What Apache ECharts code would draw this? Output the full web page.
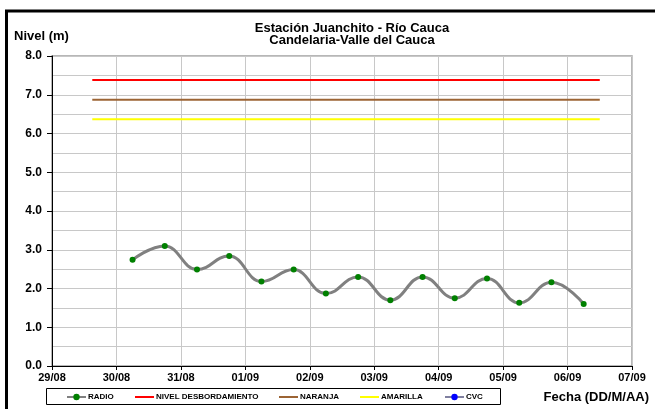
<!DOCTYPE html>
<html><head><meta charset="utf-8">
<script src="https://cdn.jsdelivr.net/npm/echarts@6/dist/echarts.min.js"></script>
<style>html,body{margin:0;padding:0;background:#fff}#c{width:655px;height:409px}</style>
</head><body><div id="c"></div>
<script>
const radioTimes = ['2010-08-30 06:00','2010-08-30 18:00','2010-08-31 06:00','2010-08-31 18:00','2010-09-01 06:00','2010-09-01 18:00','2010-09-02 06:00','2010-09-02 18:00','2010-09-03 06:00','2010-09-03 18:00','2010-09-04 06:00','2010-09-04 18:00','2010-09-05 06:00','2010-09-05 18:00','2010-09-06 06:00'];
const radioValues = [2.74,3.10,2.49,2.84,2.18,2.49,1.87,2.30,1.70,2.30,1.75,2.26,1.63,2.16,1.60];
const thresholdTimes = ['2010-08-29 15:00','2010-09-06 12:00'];
const desbordamiento = 7.38;
const naranja = 6.87;
const amarilla = 6.37;
const cvcValues = [];
const xMin = '2010-08-29 00:00', xMax = '2010-09-07 00:00';
const seriesNames = ['RADIO','NIVEL DESBORDAMIENTO','NARANJA','AMARILLA','CVC'];

function t(s){ const [d,h]=s.split(' '); const [Y,M,D]=d.split('-').map(Number); const [hh,mm]=h.split(':').map(Number); return new Date(Y,M-1,D,hh,mm).getTime(); }
const pad = n => (n<10?'0':'')+n;

const chart = echarts.init(document.getElementById('c'));
const F = 'Liberation Sans, Arial, sans-serif';
const legendLefts = [66,135,279,360,444];
const legendIsLine = [false,true,true,true,false];
chart.setOption({
  animation:false,
  backgroundColor:'#fff',
  title:{text:'Estación Juanchito - Río Cauca\nCandelaria-Valle del Cauca',left:347,textAlign:'center',top:17,
    textStyle:{fontFamily:F,fontSize:13,fontWeight:'bold',color:'#000',lineHeight:12}},
  graphic:[
    {type:'rect',shape:{x:6.5,y:11,width:700,height:450},style:{fill:'none',stroke:'#000',lineWidth:3},z:100},
    {type:'rect',shape:{x:46.5,y:388.5,width:454,height:16},style:{fill:'#fff',stroke:'#000',lineWidth:1},z:0},
    {type:'text',left:14,top:30,style:{text:'Nivel (m)',font:'bold 13px '+F,fill:'#000'}},
    {type:'text',right:6,top:391,style:{text:'Fecha (DD/M/AA)',font:'bold 13px '+F,fill:'#000'}}
  ],
  legend: seriesNames.map((n,i)=>({data:[legendIsLine[i]?{name:n,icon:'rect'}:{name:n}],left:legendLefts[i],top:393,
    itemWidth:19,itemHeight:legendIsLine[i]?2:8,itemGap:0,
    textStyle:{fontFamily:F,fontSize:8,fontWeight:'bold',color:'#000',padding:[0,0,0,-3]},padding:0,z:5})),
  grid:{left:52,right:23,top:56,bottom:43,show:true,borderColor:'#a0a0a0',borderWidth:1.5},
  xAxis:{type:'time',min:t(xMin),max:t(xMax),interval:86400000,
    axisLine:{lineStyle:{color:'#000',width:1}},
    axisTick:{show:true,length:4,lineStyle:{color:'#000'}},
    splitLine:{show:true,lineStyle:{color:'#c8c8c8',width:1}},
    minorTick:{show:false},
    axisLabel:{fontFamily:F,fontSize:11,fontWeight:'bold',color:'#000',margin:6,showMinLabel:true,showMaxLabel:true,hideOverlap:false,
      formatter:v=>{const d=new Date(v);return pad(d.getDate())+'/'+pad(d.getMonth()+1);}}},
  yAxis:{type:'value',min:0,max:8,interval:1,
    axisLine:{show:true,lineStyle:{color:'#000',width:1}},
    axisTick:{show:true,length:5,lineStyle:{color:'#000'}},
    splitLine:{show:true,lineStyle:{color:'#c8c8c8',width:1}},
    minorTick:{show:false,splitNumber:2},
    minorSplitLine:{show:true,lineStyle:{color:'#c8c8c8',width:1}},
    axisLabel:{fontFamily:F,fontSize:12,fontWeight:'bold',color:'#000',margin:10,formatter:v=>v.toFixed(1)}},
  series:[
    {name:'RADIO',type:'line',smooth:0.45,smoothMonotone:'x',data:radioTimes.map((s,i)=>[t(s),radioValues[i]]),
      lineStyle:{color:'#808080',width:3},itemStyle:{color:'#008000',borderWidth:0},symbol:'circle',symbolSize:6,showAllSymbol:true,z:5},
    {name:'NIVEL DESBORDAMIENTO',type:'line',data:thresholdTimes.map(s=>[t(s),desbordamiento]),symbol:'none',lineStyle:{color:'#ff0000',width:2},itemStyle:{color:'#ff0000'}},
    {name:'NARANJA',type:'line',data:thresholdTimes.map(s=>[t(s),naranja]),symbol:'none',lineStyle:{color:'#9c6434',width:2},itemStyle:{color:'#9c6434'}},
    {name:'AMARILLA',type:'line',data:thresholdTimes.map(s=>[t(s),amarilla]),symbol:'none',lineStyle:{color:'#ffff00',width:2},itemStyle:{color:'#ffff00'}},
    {name:'CVC',type:'line',data:cvcValues,symbol:'circle',symbolSize:5,lineStyle:{color:'#8080a0',width:2},itemStyle:{color:'#0000ff'}}
  ]
});
</script></body></html>
